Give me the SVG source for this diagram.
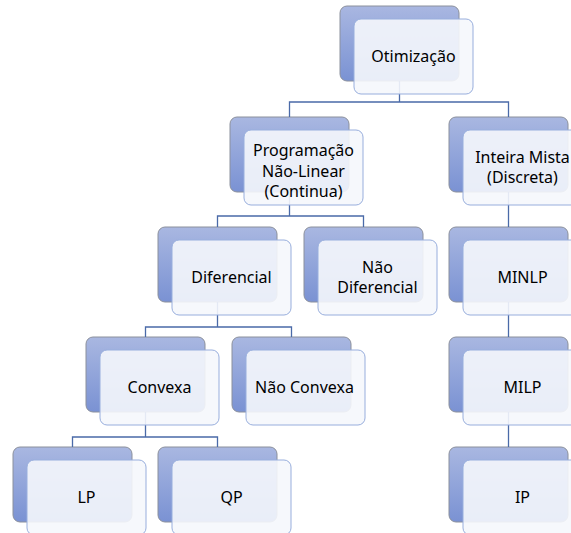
<svg xmlns="http://www.w3.org/2000/svg" width="571" height="533" viewBox="0 0 571 533">
  <defs>
    <linearGradient id="backFill" x1="0" y1="0" x2="0" y2="1">
      <stop offset="0" stop-color="#a9b7e1"/>
      <stop offset="1" stop-color="#7a92d3"/>
    </linearGradient>
  </defs>
  <style>
    .back { fill: url(#backFill); stroke: #8b909c; stroke-width: 1; }
    .front { fill: #f5f7fc; fill-opacity: 0.9; stroke: #98aedd; stroke-width: 1; }
    .link { fill: none; stroke: #4a6aa8; stroke-width: 1.3; }
    text { font-family: "Noto Sans", "Open Sans", sans-serif; font-size: 16px; fill: #000; text-anchor: middle; }
  </style>
  <rect width="571" height="533" fill="#ffffff"/>

  <!-- back plates -->
  <g id="back-plates">
    <rect class="back" x="340" y="6" width="119" height="75" rx="7"/>
    <rect class="back" x="230" y="117" width="119" height="75" rx="7"/>
    <rect class="back" x="449" y="117" width="119" height="75" rx="7"/>
    <rect class="back" x="158" y="227" width="119" height="75" rx="7"/>
    <rect class="back" x="304" y="227" width="119" height="75" rx="7"/>
    <rect class="back" x="449" y="227" width="119" height="75" rx="7"/>
    <rect class="back" x="86" y="337" width="119" height="75" rx="7"/>
    <rect class="back" x="232" y="337" width="119" height="75" rx="7"/>
    <rect class="back" x="449" y="337" width="119" height="75" rx="7"/>
    <rect class="back" x="13" y="447" width="119" height="75" rx="7"/>
    <rect class="back" x="158" y="447" width="119" height="75" rx="7"/>
    <rect class="back" x="449" y="447" width="119" height="75" rx="7"/>
  </g>

  <!-- connectors -->
  <g id="connectors">
    <path class="link" d="M399.5,81 V102 M289.5,117 V102 H508.5 V117"/>
    <path class="link" d="M289.5,192 V216 M217.5,227 V216 H363.5 V227"/>
    <path class="link" d="M508.5,192 V227"/>
    <path class="link" d="M217.5,302 V327 M145.5,337 V327 H291.5 V337"/>
    <path class="link" d="M508.5,302 V337"/>
    <path class="link" d="M145.5,412 V437 M72.5,447 V437 H217.5 V447"/>
    <path class="link" d="M508.5,412 V447"/>
  </g>

  <!-- nodes -->
  <g id="otimizacao">
    <rect class="front" x="354" y="19" width="119" height="75" rx="7"/>
    <text x="413.5" y="62">Otimização</text>
  </g>
  <g id="programacao-nao-linear">
    <rect class="front" x="244" y="130" width="119" height="75" rx="7"/>
    <text x="303.5" y="156">Programação</text>
    <text x="303.5" y="176.5">Não-Linear</text>
    <text x="303.5" y="197">(Continua)</text>
  </g>
  <g id="inteira-mista">
    <rect class="front" x="463" y="130" width="119" height="75" rx="7"/>
    <text x="522.5" y="163">Inteira Mista</text>
    <text x="522.5" y="183">(Discreta)</text>
  </g>
  <g id="diferencial">
    <rect class="front" x="172" y="240" width="119" height="75" rx="7"/>
    <text x="231.5" y="283">Diferencial</text>
  </g>
  <g id="nao-diferencial">
    <rect class="front" x="318" y="240" width="119" height="75" rx="7"/>
    <text x="377.5" y="273">Não</text>
    <text x="377.5" y="293">Diferencial</text>
  </g>
  <g id="minlp">
    <rect class="front" x="463" y="240" width="119" height="75" rx="7"/>
    <text x="522.5" y="283">MINLP</text>
  </g>
  <g id="convexa">
    <rect class="front" x="100" y="350" width="119" height="75" rx="7"/>
    <text x="159.5" y="393">Convexa</text>
  </g>
  <g id="nao-convexa">
    <rect class="front" x="246" y="350" width="119" height="75" rx="7"/>
    <text x="304.5" y="393">Não Convexa</text>
  </g>
  <g id="milp">
    <rect class="front" x="463" y="350" width="119" height="75" rx="7"/>
    <text x="522.5" y="393">MILP</text>
  </g>
  <g id="lp">
    <rect class="front" x="27" y="460" width="119" height="75" rx="7"/>
    <text x="86.5" y="503">LP</text>
  </g>
  <g id="qp">
    <rect class="front" x="172" y="460" width="119" height="75" rx="7"/>
    <text x="231.5" y="503">QP</text>
  </g>
  <g id="ip">
    <rect class="front" x="463" y="460" width="119" height="75" rx="7"/>
    <text x="522.5" y="503">IP</text>
  </g>
</svg>
